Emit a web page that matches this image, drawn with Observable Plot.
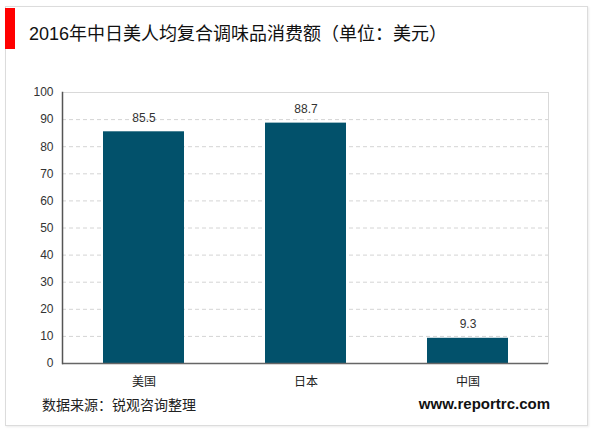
<!DOCTYPE html>
<html>
<head>
<meta charset="utf-8">
<script src="https://cdn.jsdelivr.net/npm/d3@7"></script>
<script src="https://cdn.jsdelivr.net/npm/@observablehq/plot@0.6"></script>
<style>
  html, body { margin: 0; padding: 0; background: #fff; }
  #wrap { position: relative; width: 600px; height: 433px; overflow: hidden; font-family: "Liberation Sans", Arial, "Noto Sans CJK SC", sans-serif; }
  #card { position: absolute; left: 5px; top: 6px; width: 583px; height: 420px; border: 1px solid #dcdcdc; box-sizing: border-box; box-shadow: 1px 1px 2px rgba(0,0,0,0.08); }
  #redbar { position: absolute; left: 5px; top: 8px; width: 10px; height: 41px; background: #ff0000; }
  #title { position: absolute; left: 29px; top: 22px; font-size: 18px; line-height: 24px; color: #111; font-family: "Liberation Sans", Arial, "Noto Sans CJK SC", sans-serif; white-space: nowrap; }
  #source { position: absolute; left: 42px; top: 395px; font-size: 14px; line-height: 18px; color: #222; font-family: "Noto Sans CJK SC", sans-serif; white-space: nowrap; }
  #site { position: absolute; right: 50px; top: 394px; font-size: 15px; line-height: 20px; font-weight: bold; color: #111; font-family: "Liberation Sans", Arial, sans-serif; }
  #chart { position: absolute; left: 0; top: 0; }
</style>
</head>
<body>
<div id="wrap">
  <div id="card"></div>
  <div id="redbar"></div>
  <div id="title"></div>
  <div id="chart"></div>
  <div id="source"></div>
  <div id="site"></div>
</div>
<script>
const titleText = "2016年中日美人均复合调味品消费额（单位：美元）";
const sourceText = "数据来源：锐观咨询整理";
const siteText = "www.reportrc.com";
const countries = ["美国", "日本", "中国"];
const values = [85.5, 88.7, 9.3];
const yTicks = [0, 10, 20, 30, 40, 50, 60, 70, 80, 90, 100];

document.getElementById("title").textContent = titleText;
document.getElementById("source").textContent = sourceText;
document.getElementById("site").textContent = siteText;

const data = countries.map((c, i) => ({country: c, value: values[i]}));
const barColor = "#02516b";

const chart = Plot.plot({
  width: 600,
  height: 433,
  marginLeft: 62,
  marginRight: 52,
  marginTop: 92,
  marginBottom: 70,
  style: {background: "transparent", fontFamily: "Liberation Sans, Arial, Noto Sans CJK SC, sans-serif", fontSize: "12px", color: "#333"},
  x: {domain: countries, paddingInner: 0.5, paddingOuter: 0.25, label: null},
  y: {domain: [0, 100], label: null},
  marks: [
    Plot.ruleY(yTicks.filter(d => d > 0 && d < 100), {stroke: "#d4d4d4", strokeDasharray: "4,3", strokeWidth: 1}),
    Plot.ruleY([100], {stroke: "#d9d9d9", strokeWidth: 1}),
    Plot.barY(data, {x: "country", y: "value", fill: barColor}),
    Plot.text(data, {x: "country", y: "value", text: d => d.value.toFixed(1), dy: -14, fontSize: 12, fill: "#333"}),
    Plot.axisY({ticks: yTicks, tickSize: 0, tickPadding: 9, fontSize: 12, fill: "#333"}),
    Plot.axisX({tickSize: 0, tickPadding: 14, fontSize: 12, fill: "#222", fontFamily: "Noto Sans CJK SC, sans-serif"}),
    Plot.ruleY([0], {stroke: "#666", strokeWidth: 1.5}),
    Plot.frame({anchor: "left", stroke: "#555", strokeWidth: 1.5}),
    Plot.frame({anchor: "right", stroke: "#d9d9d9", strokeWidth: 1})
  ]
});
document.getElementById("chart").appendChild(chart);
</script>
</body>
</html>
